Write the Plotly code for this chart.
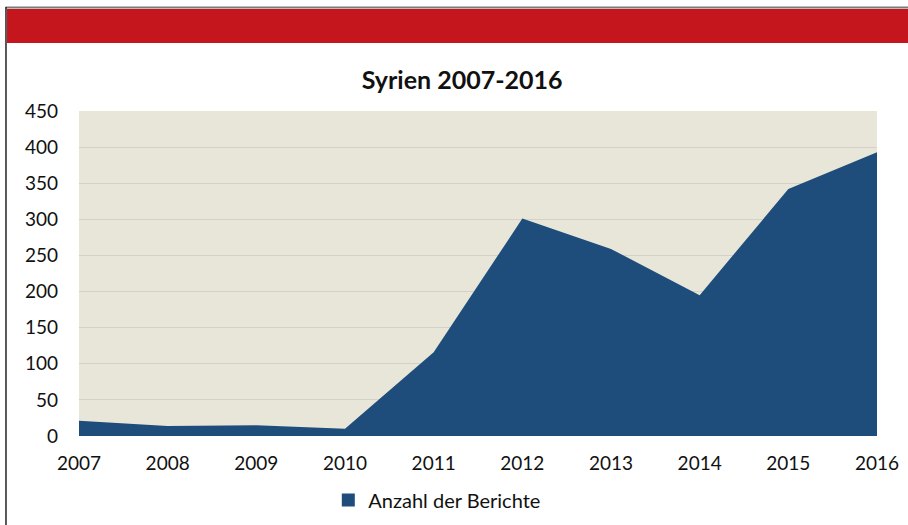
import plotly.graph_objects as go

years = [2007, 2008, 2009, 2010, 2011, 2012, 2013, 2014, 2015, 2016]
reports = [21, 14, 15, 10, 116, 301, 259, 195, 342, 393]
series_name = "Anzahl der Berichte"
chart_title = "Syrien 2007-2016"
y_ticks = [0, 50, 100, 150, 200, 250, 300, 350, 400, 450]

FONT = "Lato, 'Open Sans', sans-serif"
BLUE = "#1E4D7B"

fig = go.Figure()
fig.add_trace(go.Scatter(
    x=years, y=reports, mode="lines", fill="tozeroy",
    line=dict(width=0, color=BLUE), fillcolor=BLUE,
    showlegend=False, hoverinfo="x+y",
))
# legend entry with a square swatch
fig.add_trace(go.Scatter(
    x=[None], y=[None], mode="markers", name=series_name,
    marker=dict(symbol="square", size=13, color=BLUE),
))

# page frame: header band, top rule, left rule
fig.add_shape(type="rect", xref="paper", yref="paper",
              x0=-0.0902, x1=1.04, y0=1.2092, y1=1.3138,
              fillcolor="#C4161C", line_width=0, layer="above")
fig.add_shape(type="line", xref="paper", yref="paper",
              x0=-0.092, x1=1.04, y0=1.3185, y1=1.3185,
              line=dict(color="#7a7a7a", width=2))
fig.add_shape(type="line", xref="paper", yref="paper",
              x0=-0.0915, x1=-0.0915, y0=-0.35, y1=1.32,
              line=dict(color="#222222", width=1.5))

fig.update_layout(
    width=908, height=525,
    margin=dict(l=79, r=31, t=111, b=89, autoexpand=False),
    paper_bgcolor="white", plot_bgcolor="#E8E6D9",
    font=dict(family=FONT, color="#111111"),
    title=dict(text=f"<b>{chart_title}</b>", x=0.509, xanchor="center",
               y=0.848, yref="container", yanchor="middle",
               font=dict(size=25, family=FONT, color="#111111")),
    showlegend=True,
    legend=dict(orientation="h", x=0.449, xanchor="center", y=-0.197,
                yanchor="middle", font=dict(size=20, family=FONT),
                bgcolor="rgba(0,0,0,0)"),
    xaxis=dict(range=[2007, 2016], tickvals=years, ticktext=[str(y) for y in years],
               showgrid=False, zeroline=False, showline=False,
               tickfont=dict(size=19), ticklabelstandoff=14, ticks=""),
    yaxis=dict(range=[0, 450], tickvals=y_ticks, showgrid=True,
               gridcolor="#D3D1C8", gridwidth=1, zeroline=False, showline=False,
               tickfont=dict(size=19), ticklabelstandoff=20, ticks=""),
)

fig.write_html("out.html")
